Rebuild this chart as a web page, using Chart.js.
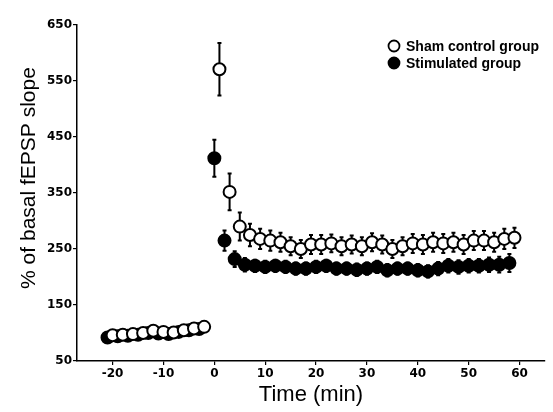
<!DOCTYPE html>
<html>
<head>
<meta charset="utf-8">
<script src="https://cdn.jsdelivr.net/npm/chart.js@4/dist/chart.umd.min.js"></script>
<style>
  html,body{margin:0;padding:0;background:#fff;}
  #wrap{width:553px;height:412px;}
</style>
</head>
<body>
<div id="wrap"><canvas id="chart" width="553" height="412"></canvas></div>
<script>
// Daten
const shamTime = [-20,-18,-16,-14,-12,-10,-8,-6,-4,-2,
  1,3,5,7,9,11,13,15,17,19,21,23,25,27,29,31,33,35,37,39,41,43,45,47,49,51,53,55,57,59];
const shamMean = [96,97,98,100,104,102,101,105,108,111,
  571,352,290,275,268,265,262,255,250,258,258,260,255,258,255,262,258,250,255,260,258,262,260,262,258,265,265,262,268,270];
const shamErr = [3,3,3,3,3,3,3,3,3,3,
  47,33,25,20,18,18,17,16,16,17,17,16,16,16,16,16,16,16,16,17,17,17,17,17,17,17,17,17,18,18];

const stimTime = [-21,-19,-17,-15,-13,-11,-9,-7,-5,-3,
  0,2,4,6,8,10,12,14,16,18,20,22,24,26,28,30,32,34,36,38,40,42,44,46,48,50,52,54,56,58];
const stimMean = [92,94,95,97,100,99,98,102,105,107,
  412,265,232,222,220,218,220,218,215,215,218,220,215,215,213,215,218,212,215,215,212,210,215,220,218,220,220,222,222,225];
const stimErr = [3,3,3,3,3,3,3,3,3,3,
  33,18,14,12,11,11,11,11,11,11,11,11,11,11,11,11,11,11,11,11,11,11,12,12,12,12,12,13,14,16];

const xTicks = [-20,-10,0,10,20,30,40,50,60];
const yTicks = [50,150,250,350,450,550,650];

const labels = ["Sham control group","Stimulated group"];

const tickFont = {family:"'DejaVu Sans', sans-serif",size:12,weight:"bold"};

// --- Fehlerbalken (hinter den Punkten) ---
const errorBars = {
  id:"errorBars",
  beforeDatasetsDraw(chart){
    const {ctx,scales:{x,y}} = chart;
    ctx.save();
    ctx.strokeStyle = "#000";
    ctx.lineWidth = 2;
    [[stimTime,stimMean,stimErr],[shamTime,shamMean,shamErr]].forEach(([t,m,e])=>{
      t.forEach((tv,i)=>{
        const px = x.getPixelForValue(tv);
        const top = y.getPixelForValue(m[i]+e[i]);
        const bot = y.getPixelForValue(m[i]-e[i]);
        ctx.beginPath();
        ctx.moveTo(px,top); ctx.lineTo(px,bot);
        ctx.moveTo(px-2,top); ctx.lineTo(px+2,top);
        ctx.moveTo(px-2,bot); ctx.lineTo(px+2,bot);
        ctx.stroke();
      });
    });
    ctx.restore();
  }
};

// --- Legende + y-Titel ---
const extras = {
  id:"extras",
  afterDraw(chart){
    const {ctx} = chart;
    ctx.save();
    ctx.font = "bold 14px 'Liberation Sans', Arial, sans-serif";
    ctx.textBaseline = "middle";
    const rows = [{y:46,fill:"#fff"},{y:63,fill:"#000"}];
    rows.forEach((r,i)=>{
      ctx.beginPath();
      ctx.arc(394,r.y,5.5,0,Math.PI*2);
      ctx.fillStyle = r.fill; ctx.fill();
      ctx.lineWidth = 1.8; ctx.strokeStyle = "#000"; ctx.stroke();
      ctx.fillStyle = "#000";
      ctx.fillText(labels[i],406,r.y+1);
    });
    ctx.font = "21px 'Liberation Sans', Arial, sans-serif";
    ctx.textAlign = "center";
    ctx.translate(29,178);
    ctx.rotate(-Math.PI/2);
    ctx.fillText("% of basal fEPSP slope",0,0);
    ctx.restore();
  }
};

const pointBase = {showLine:false,pointRadius:6,pointBorderWidth:2,pointBorderColor:"#000",pointHoverRadius:6};

new Chart(document.getElementById("chart"),{
  type:"scatter",
  data:{
    datasets:[
      {label:labels[0],data:shamTime.map((t,i)=>({x:t,y:shamMean[i]})),pointBackgroundColor:"#fff",order:0,...pointBase},
      {label:labels[1],data:stimTime.map((t,i)=>({x:t,y:stimMean[i]})),pointBackgroundColor:"#000",order:1,...pointBase}
    ]
  },
  options:{
    responsive:false,
    animation:false,
    layout:{padding:{top:25,right:0,left:0,bottom:0}},
    plugins:{legend:{display:false},tooltip:{enabled:false}},
    scales:{
      x:{
        type:"linear",min:-27,max:65,
        afterBuildTicks:s=>{s.ticks = xTicks.map(v=>({value:v}));},
        afterFit:s=>{s.height = 51;},
        border:{color:"#000",width:1.5},
        grid:{display:true,drawOnChartArea:false,tickLength:4,color:"#000",lineWidth:1.2},
        ticks:{color:"#000",padding:2,font:tickFont},
        title:{display:true,text:"Time (min)",color:"#000",font:{family:"'Liberation Sans', Arial, sans-serif",size:22},padding:{top:2}}
      },
      y:{
        min:50,max:650,
        afterBuildTicks:s=>{s.ticks = yTicks.map(v=>({value:v}));},
        afterFit:s=>{s.width = 77;},
        border:{color:"#000",width:1.5},
        grid:{display:true,drawOnChartArea:false,tickLength:4,color:"#000",lineWidth:1.2},
        ticks:{color:"#000",padding:1,font:tickFont}
      }
    }
  },
  plugins:[errorBars,extras]
});
</script>
</body>
</html>
